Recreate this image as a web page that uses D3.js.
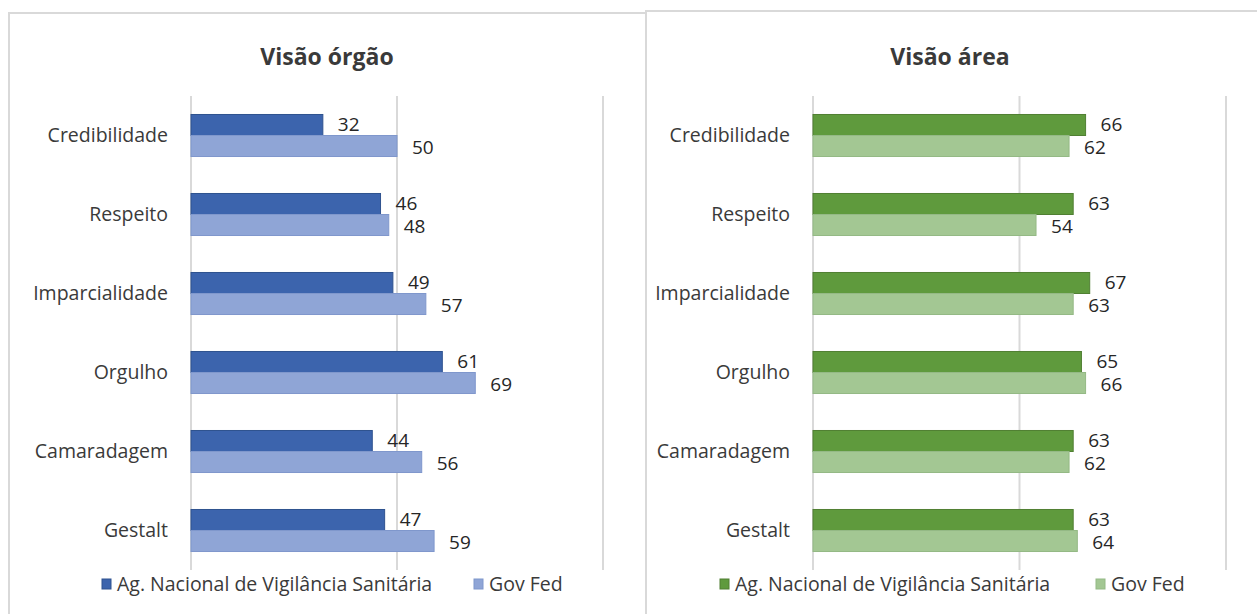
<!DOCTYPE html>
<html>
<head>
<meta charset="utf-8">
<script src="https://cdn.jsdelivr.net/npm/d3@7"></script>
<style>
  html, body { margin: 0; padding: 0; background: #fff; }
  svg { display: block; font-family: 'Open Sans', sans-serif; }
</style>
</head>
<body>
<svg id="chart" width="1257" height="614"></svg>
<script>
const categories = ['Credibilidade', 'Respeito', 'Imparcialidade', 'Orgulho', 'Camaradagem', 'Gestalt'];
const seriesNames = ['Ag. Nacional de Vigilância Sanitária', 'Gov Fed'];

const orgaoAgencia = [32, 46, 49, 61, 44, 47];
const orgaoGovFed = [50, 48, 57, 69, 56, 59];
const areaAgencia = [66, 63, 67, 65, 63, 63];
const areaGovFed = [62, 54, 63, 66, 62, 64];

const xTicks = [0, 50, 100];

const panels = [
  {
    title: 'Visão órgão', titleX: 327, left: 9, right: 646, top: 13, plotX0: 191, plotX1: 603,
    series: [orgaoAgencia, orgaoGovFed],
    fill: ['#3C64AD', '#8FA5D6'], stroke: ['#2F528F', '#7F97CC'],
    legendX: [102, 474]
  },
  {
    title: 'Visão área', titleX: 950, left: 646, right: 1270, top: 11, plotX0: 813, plotX1: 1226,
    series: [areaAgencia, areaGovFed],
    fill: ['#5F9A3D', '#A3C793'], stroke: ['#507F33', '#94B985'],
    legendX: [720, 1096]
  }
];

const svg = d3.select('#chart');
const plotTop = 96, plotBottom = 570;

panels.forEach(p => {
  const g = svg.append('g');

  // panel frame
  g.append('rect')
    .attr('x', p.left).attr('y', p.top)
    .attr('width', p.right - p.left).attr('height', 700)
    .attr('fill', 'none').attr('stroke', '#D9D9D9').attr('stroke-width', 2);

  g.append('text')
    .attr('x', p.titleX).attr('y', 65)
    .attr('text-anchor', 'middle')
    .attr('font-size', 23).attr('font-weight', 'bold').attr('fill', '#3A3A3A')
    .text(p.title);

  const x = d3.scaleLinear().domain([0, 100]).range([p.plotX0, p.plotX1]);
  const y = d3.scaleBand().domain(categories).range([plotTop, plotBottom]);
  const sub = d3.scaleBand().domain([0, 1]).range([0, y.bandwidth()]).paddingOuter(0.88);

  // gridlines
  g.selectAll('.grid').data(xTicks).join('line')
    .attr('x1', d => x(d)).attr('x2', d => x(d))
    .attr('y1', plotTop).attr('y2', plotBottom)
    .attr('stroke', '#D9D9D9').attr('stroke-width', 2);

  // category labels
  g.selectAll('.cat').data(categories).join('text')
    .attr('x', p.plotX0 - 23)
    .attr('y', d => y(d) + y.bandwidth() / 2)
    .attr('dy', '0.35em')
    .attr('text-anchor', 'end')
    .attr('font-size', 19.5).attr('fill', '#3A3A3A')
    .text(d => d);

  p.series.forEach((vals, si) => {
    const rows = categories.map((c, i) => ({ c, v: vals[i] }));
    g.selectAll('.bar' + si).data(rows).join('rect')
      .attr('x', x(0))
      .attr('y', d => y(d.c) + sub(si))
      .attr('width', d => x(d.v) - x(0))
      .attr('height', sub.bandwidth())
      .attr('fill', p.fill[si]).attr('stroke', p.stroke[si]).attr('stroke-width', 1);

    g.selectAll('.val' + si).data(rows).join('text')
      .attr('x', d => x(d.v) + 15)
      .attr('y', d => y(d.c) + sub(si) + sub.bandwidth() / 2 + (si === 0 ? -1 : 1))
      .attr('dy', '0.35em')
      .attr('font-size', 19).attr('fill', '#262626')
      .text(d => d.v);
  });

  // legend
  seriesNames.forEach((name, si) => {
    g.append('rect')
      .attr('x', p.legendX[si]).attr('y', 579)
      .attr('width', 9).attr('height', 10)
      .attr('fill', p.fill[si]).attr('stroke', p.stroke[si]).attr('stroke-width', 1);
    g.append('text')
      .attr('x', p.legendX[si] + 15).attr('y', 584)
      .attr('dy', '0.35em')
      .attr('font-size', 19.5).attr('fill', '#3A3A3A')
      .text(name);
  });
});
</script>
</body>
</html>
